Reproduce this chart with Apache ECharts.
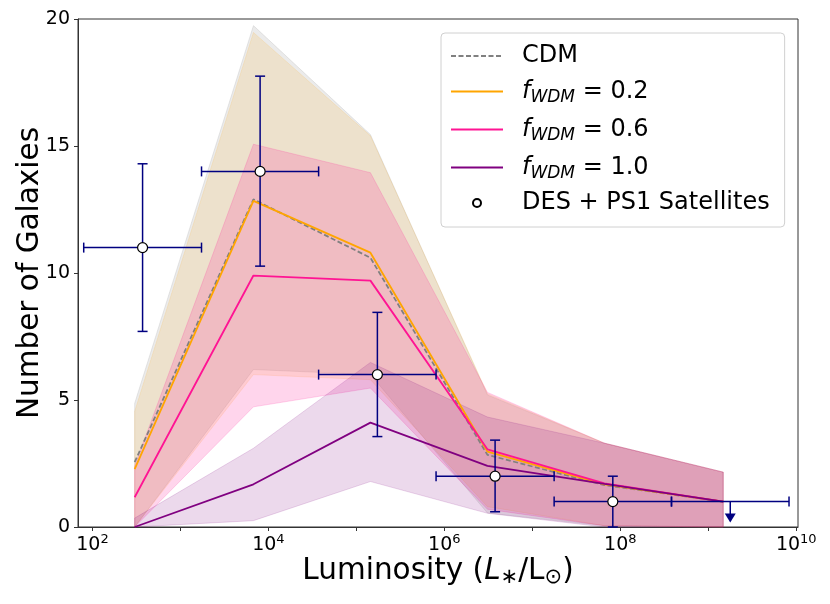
<!DOCTYPE html>
<html><head><meta charset="utf-8">
<script src="https://cdn.jsdelivr.net/npm/echarts@6/dist/echarts.min.js"></script>
<style>html,body{margin:0;padding:0;background:#fff}#c{width:830px;height:604px}</style>
</head><body><div id="c"></div>
<script>
// x values are log10(L*/Lsun)
const modelLogL = [2.48, 3.83, 5.16, 6.49, 7.82, 9.17];
const cdm      = [2.55, 12.90, 10.60, 2.84, 1.65, 1.00];
const wdm02    = [2.28, 12.84, 10.80, 2.97, 1.68, 1.00];
const wdm06    = [1.17,  9.90,  9.70, 3.06, 1.72, 1.00];
const wdm10    = [0.00,  1.68,  4.11, 2.41, 1.70, 1.00];
const cdmUpper   = [4.87, 19.74, 15.45, 5.20, 3.30, 2.16];
const cdmLower   = [0.00,  6.20,  6.00, 0.55, 0.05, 0.00];
const wdm02Upper = [4.55, 19.47, 15.40, 5.25, 3.30, 2.16];
const wdm02Lower = [0.00,  6.00,  5.80, 0.80, 0.05, 0.00];
const wdm06Upper = [2.40, 15.07, 13.95, 5.30, 3.30, 2.16];
const wdm06Lower = [0.00,  4.73,  5.47, 0.70, 0.05, 0.00];
const wdm10Upper = [0.35,  3.10,  6.48, 4.33, 3.30, 2.16];
const wdm10Lower = [0.00,  0.25,  1.79, 0.54, 0.00, 0.00];

const dataLogL   = [2.57, 3.906, 5.239, 6.577, 7.915];
const dataLogLLo = [1.901, 3.240, 4.571, 5.906, 7.248];
const dataLogLHi = [3.240, 4.571, 5.906, 7.248, 8.582];
const dataN      = [11, 14, 6, 2, 1];
const dataNLo    = [7.70, 10.27, 3.56, 0.60, 0.00];
const dataNHi    = [14.30, 17.75, 8.45, 3.42, 2.00];
const limLogL    = [9.25];
const limLogLLo  = [8.582];
const limLogLHi  = [9.918];
const limN       = [1];

const xTicks  = [2, 3, 4, 5, 6, 7, 8, 9, 10];
const xLabels = [2, 4, 6, 8, 10];

const FONT = 'DejaVu Sans';
const NAVY = '#000080';

function band(name, upper, lower, color) {
  return {
    type: 'custom', name: name, silent: true, z: 1,
    data: modelLogL.map((x, i) => [x, lower[i], upper[i]]),
    encode: { x: 0, y: [1, 2] },
    renderItem(params, api) {
      if (params.dataIndex !== 0) return null;
      const pts = [];
      for (let i = 0; i < modelLogL.length; i++) pts.push(api.coord([modelLogL[i], upper[i]]));
      for (let i = modelLogL.length - 1; i >= 0; i--) pts.push(api.coord([modelLogL[i], lower[i]]));
      return { type: 'polygon', shape: { points: pts }, style: { fill: color, stroke: color, lineWidth: 1 } };
    }
  };
}
function line(name, vals, color, dashed) {
  return {
    type: 'line', name: name, symbol: 'none', showSymbol: false, z: 3, silent: true,
    data: modelLogL.map((x, i) => [x, vals[i]]),
    lineStyle: { color: color, width: 1.8, type: dashed ? [5, 2.5] : 'solid' },
    itemStyle: { color: color }
  };
}
const noDot = { opacity: 0 };

const chart = echarts.init(document.getElementById('c'), null, { renderer: 'canvas' });
chart.setOption({
  animation: false,
  backgroundColor: '#fff',
  grid: { left: 78, right: 32, top: 19, bottom: 77, outerBoundsMode: 'none', containLabel: false,
          show: true, borderColor: '#333', borderWidth: 1, backgroundColor: 'transparent' },
  legend: {
    orient: 'vertical', left: 441, top: 33,
    data: [
      { name: 'CDM', itemStyle: noDot },
      { name: 'f_WDM = 0.2', itemStyle: noDot },
      { name: 'f_WDM = 0.6', itemStyle: noDot },
      { name: 'f_WDM = 1.0', itemStyle: noDot },
      { name: 'DES + PS1 Satellites' }
    ],
    itemWidth: 52, itemHeight: 8, itemGap: 9,
    padding: [11, 15, 12, 9],
    backgroundColor: 'rgba(255,255,255,0.8)', borderColor: '#d0d0d0', borderWidth: 1, borderRadius: 4,
    formatter: name => {
      const m = name.match(/^f_WDM = (.*)$/);
      if (m) return '{f|f}{s|WDM}{t| = ' + m[1] + '}';
      return '{t|' + name + '}';
    },
    textStyle: {
      padding: [0, 0, 0, 14],
      rich: {
        t: { fontFamily: FONT, fontSize: 24, lineHeight: 28, color: '#000' },
        f: { fontFamily: FONT, fontSize: 24, lineHeight: 28, color: '#000', fontStyle: 'italic' },
        s: { fontFamily: FONT, fontSize: 17, lineHeight: 17, color: '#000', fontStyle: 'italic', padding: [12, 0, 0, 0] }
      }
    }
  },
  xAxis: {
    type: 'value', min: 1.836, max: 10.02,
    axisLine: { show: true, onZero: false, lineStyle: { color: '#333', width: 1 } },
    axisTick: { show: true, length: 4, customValues: xTicks, lineStyle: { color: '#333' } },
    axisLabel: {
      customValues: xLabels, margin: 7,
      formatter: v => '{b|10}{s|' + Math.round(v) + '}',
      rich: {
        b: { fontFamily: FONT, fontSize: 19, lineHeight: 22, color: '#000' },
        s: { fontFamily: FONT, fontSize: 13, lineHeight: 13, color: '#000', padding: [0, 0, 10, 0] }
      }
    },
    splitLine: { show: false },
    name: '{t|Luminosity (}{i|L}{s|∗}{t|/L}{s|⊙}{t|)}',
    nameLocation: 'middle', nameGap: 27, nameMoveOverlap: false,
    nameTextStyle: {
      rich: {
        t: { fontFamily: FONT, fontSize: 29.5, lineHeight: 35, color: '#000' },
        i: { fontFamily: FONT, fontSize: 29.5, lineHeight: 35, color: '#000', fontStyle: 'italic' },
        s: { fontFamily: FONT, fontSize: 21, lineHeight: 21, color: '#000', padding: [12, 0, 0, 0] }
      }
    }
  },
  yAxis: {
    type: 'value', min: 0, max: 20, interval: 5,
    axisLine: { show: true, lineStyle: { color: '#333', width: 1 } },
    axisTick: { show: true, length: 4, lineStyle: { color: '#333' } },
    axisLabel: { fontFamily: FONT, fontSize: 19, color: '#000', margin: 8 },
    splitLine: { show: false },
    name: 'Number of Galaxies', nameLocation: 'middle', nameGap: 33, nameMoveOverlap: false,
    nameTextStyle: { fontFamily: FONT, fontSize: 29.5, color: '#000' }
  },
  series: [
    band('cdmBand', cdmUpper, cdmLower, 'rgba(128,128,128,0.16)'),
    band('wdm02Band', wdm02Upper, wdm02Lower, 'rgba(255,165,0,0.13)'),
    band('wdm06Band', wdm06Upper, wdm06Lower, 'rgba(255,20,147,0.18)'),
    band('wdm10Band', wdm10Upper, wdm10Lower, 'rgba(128,0,128,0.15)'),
    line('CDM', cdm, '#808080', true),
    line('f_WDM = 0.2', wdm02, '#ffa500', false),
    line('f_WDM = 0.6', wdm06, '#ff1493', false),
    line('f_WDM = 1.0', wdm10, '#800080', false),
    {
      type: 'custom', name: 'errbars', silent: true, z: 5,
      data: dataLogL.map((x, i) => [x, dataN[i], dataLogLLo[i], dataLogLHi[i], dataNLo[i], dataNHi[i]]),
      encode: { x: 0, y: 1 },
      renderItem(params, api) {
        const x = api.value(0), y = api.value(1);
        const l = api.coord([api.value(2), y]), r = api.coord([api.value(3), y]);
        const lo = api.coord([x, api.value(4)]), hi = api.coord([x, api.value(5)]);
        const c = 5, st = { stroke: NAVY, lineWidth: 1.5 };
        const L = (x1, y1, x2, y2) => ({ type: 'line', shape: { x1, y1, x2, y2 }, style: st });
        return { type: 'group', children: [
          L(l[0], l[1], r[0], r[1]), L(lo[0], lo[1], hi[0], hi[1]),
          L(l[0], l[1] - c, l[0], l[1] + c), L(r[0], r[1] - c, r[0], r[1] + c),
          L(lo[0] - c, lo[1], lo[0] + c, lo[1]), L(hi[0] - c, hi[1], hi[0] + c, hi[1])
        ] };
      }
    },
    {
      type: 'custom', name: 'limit', silent: true, z: 5,
      data: limLogL.map((x, i) => [x, limN[i], limLogLLo[i], limLogLHi[i]]),
      encode: { x: 0, y: 1 },
      renderItem(params, api) {
        const x = api.value(0), y = api.value(1);
        const p = api.coord([x, y]);
        const l = api.coord([api.value(2), y]), r = api.coord([api.value(3), y]);
        const c = 5, st = { stroke: NAVY, lineWidth: 1.5 };
        const L = (x1, y1, x2, y2) => ({ type: 'line', shape: { x1, y1, x2, y2 }, style: st });
        return { type: 'group', children: [
          L(l[0], l[1], r[0], r[1]),
          L(l[0], l[1] - c, l[0], l[1] + c), L(r[0], r[1] - c, r[0], r[1] + c),
          L(p[0], p[1], p[0], p[1] + 14),
          { type: 'polygon', shape: { points: [[p[0] - 5.5, p[1] + 12], [p[0] + 5.5, p[1] + 12], [p[0], p[1] + 21]] }, style: { fill: NAVY } }
        ] };
      }
    },
    {
      type: 'scatter', name: 'DES + PS1 Satellites', z: 10, silent: true,
      data: dataLogL.map((x, i) => [x, dataN[i]]),
      symbol: 'circle', symbolSize: 10,
      itemStyle: { color: '#fff', borderColor: '#000', borderWidth: 1.2, opacity: 1 }
    }
  ]
});
</script>
</body></html>
